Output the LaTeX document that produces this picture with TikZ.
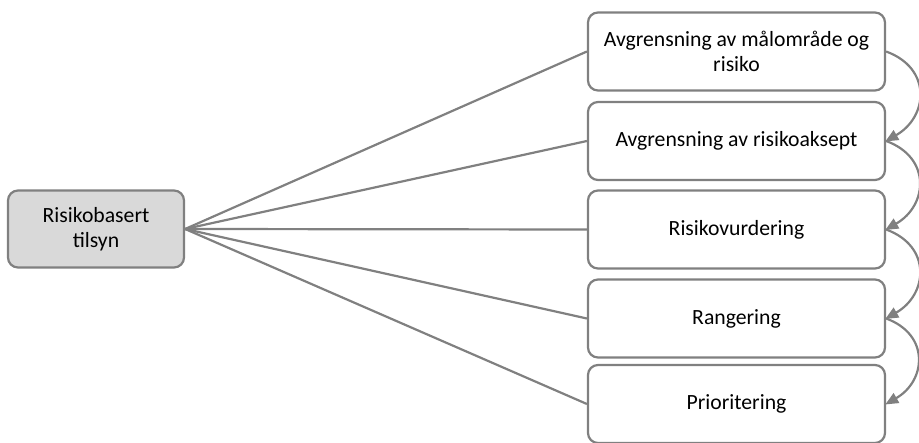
\documentclass[tikz,border=0pt]{standalone}
\usepackage{fontspec}
\setmainfont{Carlito}
\usetikzlibrary{arrows.meta}
\definecolor{edgegray}{RGB}{128,128,128}
\definecolor{fillgray}{RGB}{217,217,217}
\begin{document}
\begin{tikzpicture}[x=1pt,y=-1pt,
  box/.style={draw=edgegray, line width=2.2pt, rounded corners=10pt, fill=white,
    minimum width=297pt, minimum height=78pt, align=center, inner sep=2pt,
    font=\fontsize{21.7}{25.5}\selectfont, text=black},
  rootbox/.style={box, fill=fillgray, minimum width=176pt, minimum height=77pt},
  link/.style={draw=edgegray, line width=2.2pt},
  flow/.style={draw=edgegray, line width=2.2pt, -{Triangle[length=13pt,width=11pt]}, shorten >=-1pt}]
\useasboundingbox (0,0) rectangle (919,443);
\node[rootbox] (root) at (96,229) {Risikobasert\\tilsyn};
\node[box] (b1) at (736.5,51.5) {Avgrensning av målområde og\\risiko};
\node[box] (b2) at (736.5,141) {Avgrensning av risikoaksept};
\node[box] (b3) at (736.5,229.5) {Risikovurdering};
\node[box] (b4) at (736.5,318.5) {Rangering};
\node[box] (b5) at (736.5,404) {Prioritering};
\foreach \n in {b1,b2,b3,b4,b5}{\draw[link] (root.east) -- (\n.west);}
\draw[flow] (b1.east) to[out=-20,in=30,looseness=1.4] (b2.east);
\draw[flow] (b2.east) to[out=-20,in=30,looseness=1.4] (b3.east);
\draw[flow] (b3.east) to[out=-20,in=30,looseness=1.4] (b4.east);
\draw[flow] (b4.east) to[out=-20,in=30,looseness=1.4] (b5.east);
\end{tikzpicture}
\end{document}
